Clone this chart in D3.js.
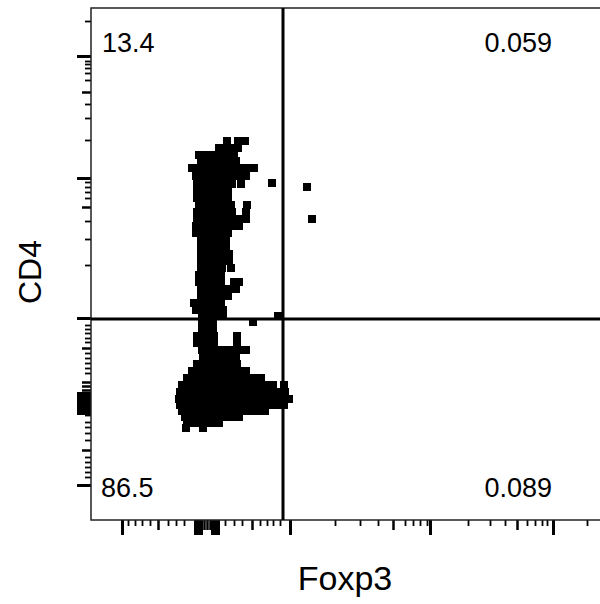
<!DOCTYPE html>
<html>
<head>
<meta charset="utf-8">
<script src="https://cdn.jsdelivr.net/npm/d3@7"></script>
<style>
  body { margin: 0; background: #fff; }
  svg { display: block; font-family: 'Liberation Sans', Arial, sans-serif; }
</style>
</head>
<body>
<div id="vis"></div>
<script>
// channel units (0-512) on both axes, biexponential display
const quadrantLabels = ['13.4', '0.059', '86.5', '0.089']
const gateFoxp3 = 192
const gateCD4 = 201

// events, one row per CD4 channel: [cd4, foxp3, foxp3, ...]
const eventRows = [
  [379, 136, 147, 154],
  [372, 128, 135, 142, 147],
  [365, 108, 115, 122, 129, 136, 143],
  [359, 110, 117, 124, 131, 138, 145],
  [352, 101, 108, 115, 122, 129, 136, 143, 150, 157, 163],
  [344, 105, 112, 119, 126, 133, 140, 147, 155],
  [336, 106, 113, 120, 127, 134, 141, 150],
  [329, 106, 113, 120, 127, 134, 137],
  [322, 106, 113, 120, 127, 134, 137],
  [315, 108, 115, 122, 129, 136, 140, 156],
  [308, 106, 113, 120, 127, 134, 141, 155],
  [301, 106, 113, 120, 127, 134, 141, 148, 155],
  [294, 105, 112, 119, 126, 133, 140, 148],
  [287, 105, 112, 119, 126, 133, 137],
  [280, 110, 117, 124, 131, 135],
  [273, 110, 117, 124, 131, 135],
  [266, 110, 117, 124, 131, 138],
  [259, 110, 117, 124, 131, 138],
  [252, 110, 117, 124, 131, 140],
  [245, 108, 115, 122, 130],
  [238, 108, 115, 122, 130, 143, 148],
  [231, 110, 117, 124, 131, 137, 145],
  [224, 110, 117, 124, 131, 137],
  [217, 103, 110, 117, 124, 130],
  [210, 105, 112, 119, 126, 132],
  [204, 111, 118, 125, 132],
  [198, 111, 118, 122],
  [191, 111, 118, 122],
  [184, 106, 113, 120, 123, 146],
  [177, 106, 113, 120, 123, 146],
  [170, 111, 118, 125, 132, 139, 147, 155],
  [163, 112, 119, 126, 133, 140, 145],
  [156, 106, 113, 120, 127, 134, 141, 146],
  [149, 101, 108, 115, 122, 129, 136, 143, 150, 155],
  [142, 96, 103, 110, 117, 124, 131, 138, 145, 152, 159, 166, 170],
  [135, 91, 98, 105, 112, 119, 126, 133, 140, 147, 154, 161, 168, 175, 182, 193],
  [128, 89, 96, 103, 110, 117, 124, 131, 138, 145, 152, 159, 166, 173, 180, 187, 194],
  [121, 88, 95, 102, 109, 116, 123, 130, 137, 144, 151, 158, 165, 172, 179, 186, 193, 198],
  [115, 89, 96, 103, 110, 117, 124, 131, 138, 145, 152, 159, 166, 173, 180, 187, 193],
  [109, 91, 98, 105, 112, 119, 126, 133, 140, 147, 154, 161, 168, 174],
  [103, 94, 101, 108, 115, 122, 129, 136, 143, 148],
  [97, 96, 103, 110, 117, 124, 128],
  [92, 95, 112]
]

// stray events [foxp3, cd4]
const strayEvents = [[181, 337], [216, 333], [221, 301], [187, 204], [162, 198]]

// tick positions (channels)
const xMajor  = [31, 199, 339, 462, 104, 107, 110, 121, 124, 127]
const xMedium = [67, 161, 302, 426, 113, 116, 119]
const xMinor  = [37, 44, 51, 59, 77, 85, 93, 134, 143, 151, 169, 176, 182, 189,
                 244, 269, 287, 314, 322, 329, 336, 377, 399, 414, 436, 444, 451, 456, 496]
const yMajor  = [35, 202, 342, 464, 107, 109, 112, 115, 118, 121, 124, 127]
const yMedium = [70, 172, 313, 428, 130, 134, 138]
const yMinor  = [43, 48, 53, 58, 63, 80, 87, 93, 98, 105, 147, 152, 157, 162, 167,
                 178, 182, 187, 191, 195, 255, 281, 299, 322, 328, 333, 338,
                 380, 402, 416, 440, 447, 452, 456, 459, 499]

const margin = { top: 8, left: 91 }
const size = 512
const dot = 8

const x = d3.scaleLinear().domain([0, 512]).range([0, size])
const y = d3.scaleLinear().domain([0, 512]).range([size, 0])

const svg = d3.select('#vis').append('svg')
    .attr('width', 600)
    .attr('height', 604)

const g = svg.append('g')
    .attr('transform', `translate(${margin.left},${margin.top})`)

// ticks: three lengths per axis
function tickSet(axis, values, len, w) {
    return sel => sel
        .call(axis.tickValues(values).tickSize(len).tickFormat(''))
        .call(s => s.select('.domain').remove())
        .call(s => s.selectAll('.tick line').attr('stroke', '#000').attr('stroke-width', w))
}

const xTicks = [[xMajor, 15, 3], [xMedium, 10, 2.5], [xMinor, 6, 1.8]]
xTicks.forEach(([vals, len, w]) => {
    g.append('g')
        .attr('transform', `translate(0,${size})`)
        .call(tickSet(d3.axisBottom(x), vals, len, w))
})
const yTicks = [[yMajor, 14, 3], [yMedium, 9, 2.5], [yMinor, 6, 1.8]]
yTicks.forEach(([vals, len, w]) => {
    g.append('g')
        .call(tickSet(d3.axisLeft(y), vals, len, w))
})

// frame
g.append('rect')
    .attr('x', 0).attr('y', 0)
    .attr('width', size).attr('height', size)
    .attr('fill', 'none')
    .attr('stroke', '#222')
    .attr('stroke-width', 1.5)

// events
const events = eventRows.flatMap(r => r.slice(1).map(fx => ({ foxp3: fx, cd4: r[0] })))
    .concat(strayEvents.map(d => ({ foxp3: d[0], cd4: d[1] })))

g.selectAll('.event')
    .data(events)
    .join('rect')
    .attr('class', 'event')
    .attr('x', d => x(d.foxp3) - dot / 2)
    .attr('y', d => y(d.cd4) - dot / 2)
    .attr('width', dot)
    .attr('height', dot)
    .attr('fill', '#000')
    .attr('shape-rendering', 'crispEdges')

// quadrant gates
g.append('line')
    .attr('x1', x(gateFoxp3)).attr('x2', x(gateFoxp3))
    .attr('y1', 0).attr('y2', size)
    .attr('stroke', '#000').attr('stroke-width', 3)
g.append('line')
    .attr('x1', 0).attr('x2', size)
    .attr('y1', y(gateCD4)).attr('y2', y(gateCD4))
    .attr('stroke', '#000').attr('stroke-width', 3)

// quadrant percentages
const labelPos = [
    { x: 11, y: 44, anchor: 'start' },
    { x: 461, y: 44, anchor: 'end' },
    { x: 10, y: 489, anchor: 'start' },
    { x: 461, y: 489, anchor: 'end' }
]
g.selectAll('.qlabel')
    .data(quadrantLabels)
    .join('text')
    .attr('class', 'qlabel')
    .attr('x', (d, i) => labelPos[i].x)
    .attr('y', (d, i) => labelPos[i].y)
    .attr('text-anchor', (d, i) => labelPos[i].anchor)
    .style('font-size', '27px')
    .text(d => d)

// axis titles
svg.append('text')
    .attr('x', 345).attr('y', 590)
    .attr('text-anchor', 'middle')
    .style('font-size', '34px')
    .text('Foxp3')

svg.append('text')
    .attr('transform', 'translate(41,272) rotate(-90)')
    .attr('text-anchor', 'middle')
    .style('font-size', '32px')
    .text('CD4')
</script>
</body>
</html>
